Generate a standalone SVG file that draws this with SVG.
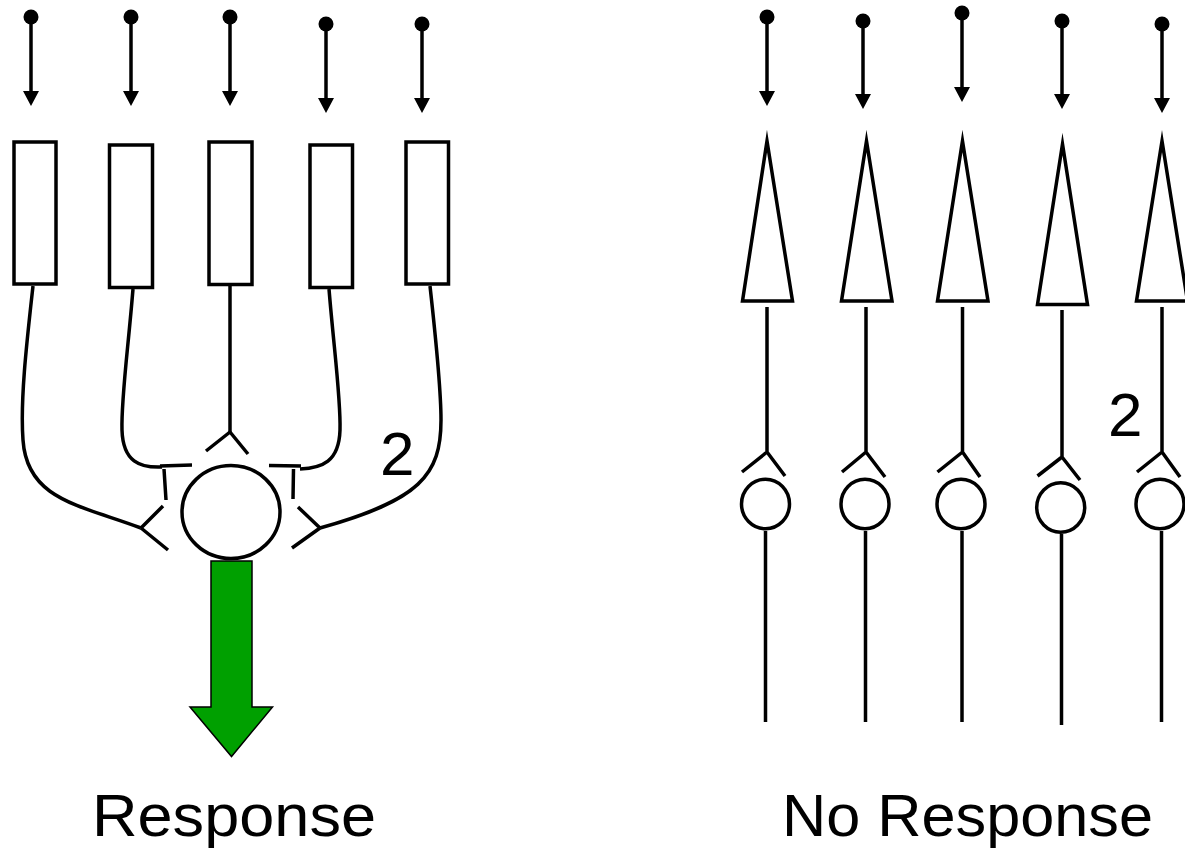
<svg xmlns="http://www.w3.org/2000/svg" width="1185" height="852" viewBox="0 0 1185 852">
  <style>
    .ln { fill: none; stroke: #000; stroke-width: 3.5; stroke-linecap: butt; }
    .cell { fill: #fff; stroke: #000; stroke-width: 3.5; stroke-miterlimit: 12; }
    .dot { fill: #000; }
    .lbl { font-family: "Liberation Sans", Arial, sans-serif; fill: #000; }
    .out { fill: #00A000; stroke: #000; stroke-width: 1.5; stroke-linejoin: miter; }
  </style>
  <defs>
    <marker id="head" markerUnits="userSpaceOnUse" viewBox="0 -9 16 18" markerWidth="16" markerHeight="18" refX="0" refY="0" orient="auto">
      <path d="M0,-8 L15,0 L0,8 Z" fill="#000"/>
    </marker>
  </defs>

  <rect width="1185" height="852" fill="#fff"/>

  <!-- connectors: stimulus arrows, axons, synaptic endings -->
  <g id="connectors">
    <!-- stimuli, convergent side -->
    <circle class="dot" cx="31" cy="17" r="7.5"/>
    <line class="ln" x1="31" y1="17" x2="31" y2="91" marker-end="url(#head)"/>
    <circle class="dot" cx="131" cy="17" r="7.5"/>
    <line class="ln" x1="131" y1="17" x2="131" y2="91" marker-end="url(#head)"/>
    <circle class="dot" cx="230" cy="17" r="7.5"/>
    <line class="ln" x1="230" y1="17" x2="230" y2="91" marker-end="url(#head)"/>
    <circle class="dot" cx="326" cy="24" r="7.5"/>
    <line class="ln" x1="326" y1="24" x2="326" y2="98" marker-end="url(#head)"/>
    <circle class="dot" cx="422" cy="24" r="7.5"/>
    <line class="ln" x1="422" y1="24" x2="422" y2="98" marker-end="url(#head)"/>

    <!-- stimuli, separate side -->
    <circle class="dot" cx="767" cy="17" r="7.5"/>
    <line class="ln" x1="767" y1="17" x2="767" y2="91" marker-end="url(#head)"/>
    <circle class="dot" cx="863" cy="21" r="7.5"/>
    <line class="ln" x1="863" y1="21" x2="863" y2="94" marker-end="url(#head)"/>
    <circle class="dot" cx="962" cy="13" r="7.5"/>
    <line class="ln" x1="962" y1="13" x2="962" y2="87" marker-end="url(#head)"/>
    <circle class="dot" cx="1062" cy="21" r="7.5"/>
    <line class="ln" x1="1062" y1="21" x2="1062" y2="94" marker-end="url(#head)"/>
    <circle class="dot" cx="1162" cy="24" r="7.5"/>
    <line class="ln" x1="1162" y1="24" x2="1162" y2="98" marker-end="url(#head)"/>

    <!-- converging axons -->
    <path class="ln" d="M33,286 C27,340 20,400 23,440 C27,500 80,505 141,528"/>
    <path class="ln" d="M141,528 L163,506 M141,528 L168,550"/>

    <path class="ln" d="M133,289 C128,350 121,400 122,430 C123,462 140,468 162,467"/>
    <path class="ln" d="M160,466 L192,465 M164,469 L166,500"/>

    <path class="ln" d="M230,286 L230,432"/>
    <path class="ln" d="M230,432 L206,451 M230,432 L248,454"/>

    <path class="ln" d="M329,289 C334,350 341,400 340,430 C339,462 322,468 300,469"/>
    <path class="ln" d="M269,465.5 L301,466 M293.5,469 L293,499"/>

    <path class="ln" d="M430,286 C436,340 441,390 441,420 C441,475 420,500 320,528"/>
    <path class="ln" d="M320,528 L298,507 M320,528 L292,548"/>

    <!-- separate pathways -->
    <path class="ln" d="M767,307 L767,452 M767,452 L742,472 M767,452 L785,476"/>
    <line class="ln" x1="765.5" y1="531" x2="765.5" y2="722"/>
    <path class="ln" d="M866,307 L866,452 M866,452 L842,472 M866,452 L885,477"/>
    <line class="ln" x1="865.5" y1="531" x2="865.5" y2="722"/>
    <path class="ln" d="M962.5,307 L962.5,452 M962.5,452 L937.5,472 M962.5,452 L980,477"/>
    <line class="ln" x1="962" y1="531" x2="962" y2="722"/>
    <path class="ln" d="M1062,310 L1062,457 M1062,457 L1037.5,476 M1062,457 L1080,480"/>
    <line class="ln" x1="1061.5" y1="534" x2="1061.5" y2="725"/>
    <path class="ln" d="M1162,307 L1162,452 M1162,452 L1137,472 M1162,452 L1180,477"/>
    <line class="ln" x1="1161.5" y1="531" x2="1161.5" y2="722"/>
  </g>

  <!-- receptor cells, convergent side -->
  <g id="receptor-1"><rect class="cell" x="14" y="142" width="42" height="142"/></g>
  <g id="receptor-2"><rect class="cell" x="109.5" y="145" width="43" height="142.5"/></g>
  <g id="receptor-3"><rect class="cell" x="209" y="142" width="43" height="142.5"/></g>
  <g id="receptor-4"><rect class="cell" x="310" y="145" width="42.5" height="142.5"/></g>
  <g id="receptor-5"><rect class="cell" x="406" y="142" width="42.5" height="142"/></g>

  <!-- target neuron and its output -->
  <g id="neuron">
    <ellipse class="cell" cx="231" cy="512" rx="49" ry="46.5"/>
  </g>
  <g id="output">
    <polygon class="out" points="211,561 252,561 252,707 272.5,707 231.5,756.5 190,707 211,707"/>
  </g>

  <!-- receptor cells, separate side -->
  <g id="cone-1"><polygon class="cell" points="767,141 792.5,301 742.5,301"/></g>
  <g id="cone-2"><polygon class="cell" points="866.5,141 892,301 841.5,301"/></g>
  <g id="cone-3"><polygon class="cell" points="962.5,141 988,301 937.5,301"/></g>
  <g id="cone-4"><polygon class="cell" points="1062.5,144 1087.5,304.5 1037.5,304.5"/></g>
  <g id="cone-5"><polygon class="cell" points="1162,141 1187.5,301 1136.5,301"/></g>

  <g id="cell-1"><ellipse class="cell" cx="765.5" cy="504" rx="24" ry="24.7"/></g>
  <g id="cell-2"><ellipse class="cell" cx="865" cy="504" rx="24" ry="24.7"/></g>
  <g id="cell-3"><ellipse class="cell" cx="961" cy="504" rx="24" ry="24.7"/></g>
  <g id="cell-4"><ellipse class="cell" cx="1060.7" cy="507.5" rx="24" ry="24.7"/></g>
  <g id="cell-5"><ellipse class="cell" cx="1160" cy="504" rx="24" ry="24.7"/></g>

  <!-- labels -->
  <g id="labels">
    <text class="lbl" x="380" y="475" font-size="62">2</text>
    <text class="lbl" x="1108" y="436" font-size="62">2</text>
    <text class="lbl" x="92" y="836" font-size="60" textLength="284" lengthAdjust="spacingAndGlyphs">Response</text>
    <text class="lbl" x="782" y="836" font-size="60" textLength="371" lengthAdjust="spacingAndGlyphs">No Response</text>
  </g>
</svg>
